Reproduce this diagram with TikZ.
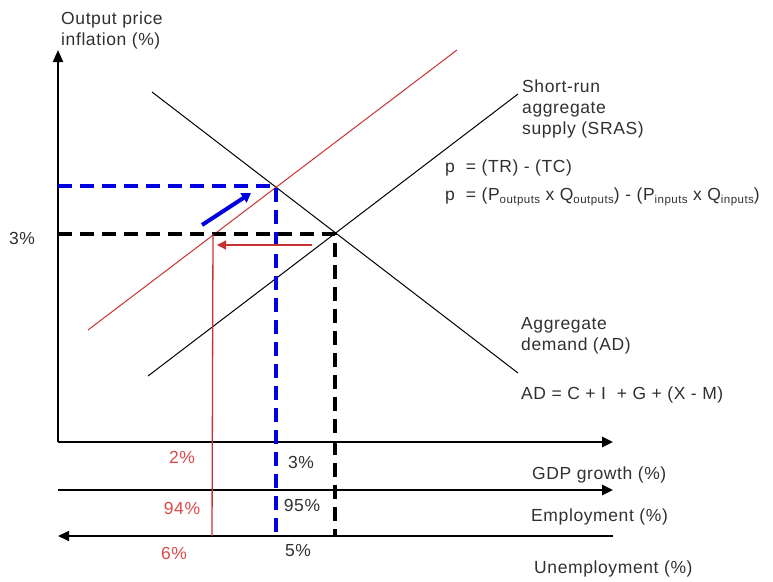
\documentclass[tikz,border=0pt]{standalone}
\usepackage{fontspec}
\setmainfont{Liberation Sans}[LetterSpace=3.5]
\usetikzlibrary{arrows.meta}
\definecolor{txt}{HTML}{303030}
\definecolor{redl}{HTML}{C83232}
\definecolor{redt}{HTML}{E04848}
\definecolor{bluel}{HTML}{0000E0}
\newcommand\sbx[1]{\raisebox{-3pt}{\fontsize{11.5}{11.5}\selectfont\addfontfeature{LetterSpace=4} #1}}
\tikzset{
  lbl/.style={font=\fontsize{17.5}{21}\selectfont, text=txt, inner sep=0pt, align=left},
  rlbl/.style={font=\fontsize{17.5}{21}\selectfont, text=redt, inner sep=0pt},
  axis/.style={line width=2.6pt, -{Triangle[length=11pt,width=10pt]}},
  curve/.style={line width=1pt, black},
  bdash/.style={line width=4pt, dash pattern=on 14pt off 8pt, black},
  bluedash/.style={line width=4pt, dash pattern=on 14pt off 8pt, bluel},
}
\begin{document}
\begin{tikzpicture}[x=1pt,y=-1pt]
\useasboundingbox (0,0) rectangle (773,581);
% coordinates
\coordinate (O) at (58,442);
\coordinate (Ytop) at (58,50);
\coordinate (Gend) at (613,442);
\coordinate (Estart) at (58,490);
\coordinate (Eend) at (613,490);
\coordinate (Ustart) at (613,536);
\coordinate (Uend) at (58,536);
\coordinate (AD1) at (152,92);
\coordinate (AD2) at (518,373);
\coordinate (AS1) at (148,376);
\coordinate (AS2) at (518,94);
\coordinate (RS1) at (88,330);
\coordinate (RS2) at (457,50);
\coordinate (Eq) at (335,234);
\coordinate (Bq) at (276,186);
\coordinate (Rq) at (213,234);
\coordinate (YB) at (58,186);
\coordinate (YK) at (58,234);
\coordinate (BB) at (276,536);
\coordinate (KB) at (335,536);
\coordinate (RB) at (212,536);
\coordinate (RA1) at (312,245);
\coordinate (RA2) at (217,245);
\coordinate (BA1) at (202,225);
\coordinate (BA2) at (251,193);
% axes
\draw[line width=2pt, -{Triangle[length=12pt,width=10pt]}] (O) -- (Ytop);
\draw[axis] (O) -- (Gend);
\draw[axis] (Estart) -- (Eend);
\draw[line width=1.6pt, -{Triangle[length=11pt,width=10pt]}] (Ustart) -- (Uend);
% curves
\draw[curve] (AD1) -- (AD2);
\draw[curve] (AS1) -- (AS2);
\draw[line width=1pt, redl] (RS1) -- (RS2);
% dashed guides
\draw[bluedash] (YB) -- (Bq) -- (BB);
\draw[bdash] (YK) -- (Eq) -- (KB);
\draw[line width=1.3pt, redl] (Rq) -- (RB);
% shift arrows
\draw[line width=1.3pt, redl, -{Triangle[length=9pt,width=9pt]}] (RA1) -- (RA2);
\draw[line width=4pt, bluel, -{Triangle[length=9pt,width=11pt]}] (BA1) -- (BA2);
% labels
\node[lbl, anchor=west] (ylab) at (61,30) {Output price\\inflation (\%)};
\node[lbl] (p3) at (22,238) {3\%};
\node[lbl, anchor=north west] (sras) at (522,80) {Short-run\\aggregate\\supply (SRAS)};
\node[lbl, anchor=west] (pi1) at (445,168) {p\ \ = (TR) - (TC)};
\node[lbl, anchor=west] (pi2) at (445,197) {p\ \ = (P\sbx{outputs} x Q\sbx{outputs}) - (P\sbx{inputs} x Q\sbx{inputs})};
\node[lbl, anchor=west] (adl) at (521,336) {Aggregate\\demand (AD)};
\node[lbl, anchor=west] (adf) at (521,395) {AD = C + I\ \ + G + (X - M)};
\node[rlbl] (g2) at (182,457) {2\%};
\node[lbl] (g3) at (301,462) {3\%};
\node[rlbl] (e94) at (182,508) {94\%};
\node[lbl] (e95) at (302,505) {95\%};
\node[rlbl] (u6) at (174,553) {6\%};
\node[lbl] (u5) at (298,551) {5\%};
\node[lbl, anchor=west] (gdp) at (532,475) {GDP growth (\%)};
\node[lbl, anchor=west] (emp) at (531,517) {Employment (\%)};
\node[lbl, anchor=west] (unemp) at (534,569) {Unemployment (\%)};
\end{tikzpicture}
\end{document}
